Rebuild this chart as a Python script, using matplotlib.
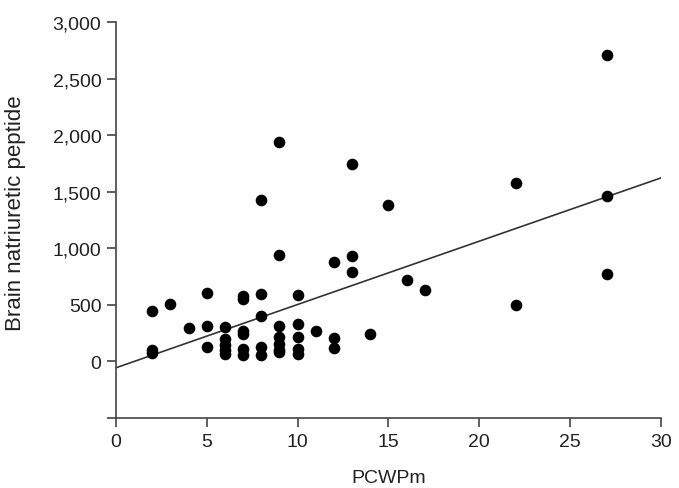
import numpy as np
import matplotlib.pyplot as plt

plt.rcParams['font.family'] = ['Liberation Sans', 'DejaVu Sans']

# PCWPm (x) and brain natriuretic peptide (y)
pcwp = [2, 2, 2, 3, 4, 5, 5, 5,
        6, 6, 6, 6, 6,
        7, 7, 7, 7, 7, 7,
        8, 8, 8, 8, 8,
        9, 9, 9, 9, 9, 9, 9,
        10, 10, 10, 10, 10,
        11, 12, 12, 12, 13, 13, 13, 14, 15, 16, 17,
        22, 22, 27, 27, 27]
bnp = [445, 105, 72, 505, 295, 605, 315, 125,
       305, 200, 145, 100, 68,
       577, 548, 272, 243, 110, 60,
       1428, 598, 400, 127, 55,
       1940, 943, 315, 212, 156, 105, 80,
       583, 335, 213, 112, 68,
       271, 883, 207, 118, 1745, 931, 790, 245, 1384, 722, 633,
       1578, 501, 2709, 1463, 775]

# regression line end points
fit_x = [0, 30]
fit_y = [-56, 1622]

yticks = [-500, 0, 500, 1000, 1500, 2000, 2500, 3000]
ytick_labels = ['', '0', '500', '1,000', '1,500', '2,000', '2,500', '3,000']
xticks = [0, 5, 10, 15, 20, 25, 30]

fig = plt.figure(figsize=(6.79, 4.89), dpi=100)
ax = fig.add_axes([0.1708, 0.1431, 0.8027, 0.81])

ax.scatter(pcwp, bnp, s=70, color='black', zorder=3, linewidths=0)
ax.plot(fit_x, fit_y, color='#333333', linewidth=1.2, zorder=2)

ax.set_xlim(0, 30)
ax.set_ylim(-500, 3000)
ax.set_xticks(xticks)
ax.set_yticks(yticks)
ax.set_yticklabels(ytick_labels)

for s in ['top', 'right']:
    ax.spines[s].set_visible(False)
for s in ['left', 'bottom']:
    ax.spines[s].set_color('#444444')
    ax.spines[s].set_linewidth(1.2)
ax.tick_params(direction='out', length=6.5, width=1.2, color='#444444',
               labelsize=14, labelcolor='#222222', pad=4)

ax.set_xlabel('PCWPm', fontsize=14, color='#222222', labelpad=14)
ax.set_ylabel('Brain natriuretic peptide', fontsize=16, color='#222222')
ax.yaxis.set_label_coords(-0.165, 0.52)

fig.savefig('out.png', dpi=100)
